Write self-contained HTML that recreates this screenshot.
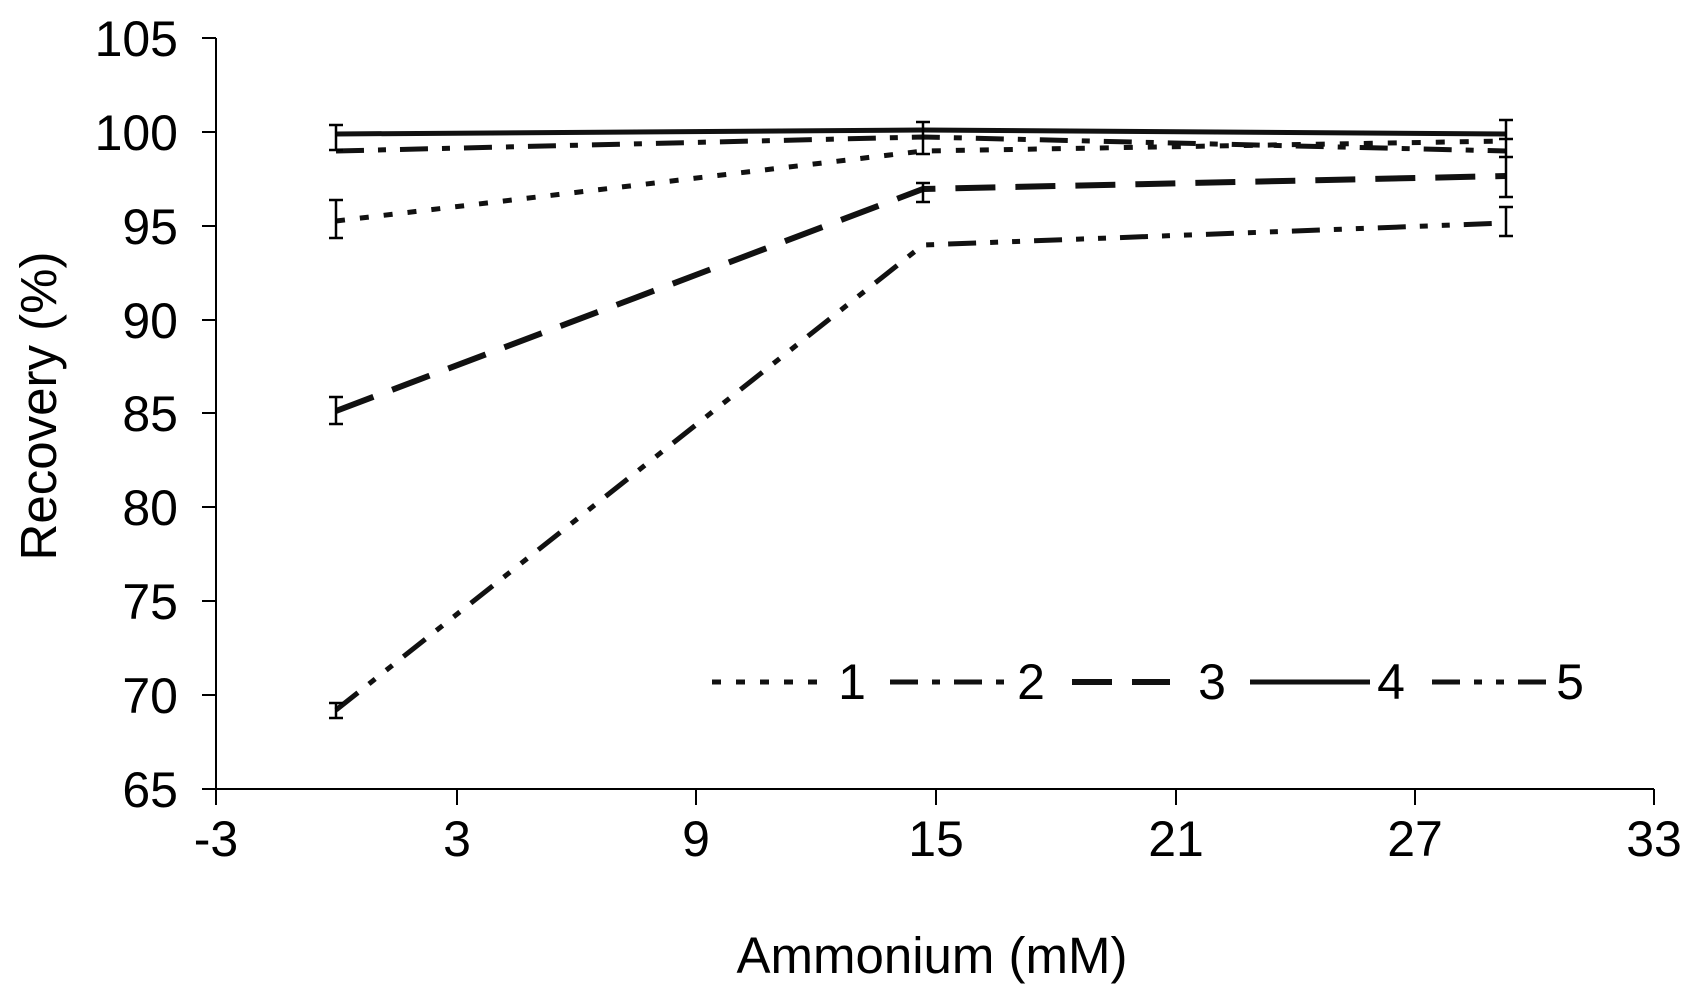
<!DOCTYPE html>
<html><head><meta charset="utf-8"><style>
html,body{margin:0;padding:0;background:#fff;}
svg{display:block;}
text{font-family:"Liberation Sans",Arial,sans-serif;fill:#000;}
</style></head><body>
<svg width="1688" height="994" viewBox="0 0 1688 994" xmlns="http://www.w3.org/2000/svg">
<g stroke="#000" stroke-width="2" fill="none">
<line x1="216" y1="38" x2="216" y2="789"/>
<line x1="216" y1="789" x2="1654" y2="789"/>
<line x1="202" y1="38" x2="216" y2="38"/>
<line x1="202" y1="132" x2="216" y2="132"/>
<line x1="202" y1="226" x2="216" y2="226"/>
<line x1="202" y1="320" x2="216" y2="320"/>
<line x1="202" y1="413" x2="216" y2="413"/>
<line x1="202" y1="507" x2="216" y2="507"/>
<line x1="202" y1="601" x2="216" y2="601"/>
<line x1="202" y1="695" x2="216" y2="695"/>
<line x1="202" y1="789" x2="216" y2="789"/>
<line x1="216" y1="789" x2="216" y2="805"/>
<line x1="457" y1="789" x2="457" y2="805"/>
<line x1="696" y1="789" x2="696" y2="805"/>
<line x1="936" y1="789" x2="936" y2="805"/>
<line x1="1176" y1="789" x2="1176" y2="805"/>
<line x1="1415" y1="789" x2="1415" y2="805"/>
<line x1="1654" y1="789" x2="1654" y2="805"/>
</g>
<g font-size="50" text-anchor="end">
<text x="178" y="56">105</text>
<text x="178" y="150">100</text>
<text x="178" y="244">95</text>
<text x="178" y="338">90</text>
<text x="178" y="431">85</text>
<text x="178" y="525">80</text>
<text x="178" y="619">75</text>
<text x="178" y="713">70</text>
<text x="178" y="807">65</text>
</g>
<g font-size="50" text-anchor="middle">
<text x="216" y="856">-3</text>
<text x="457" y="856">3</text>
<text x="696" y="856">9</text>
<text x="936" y="856">15</text>
<text x="1176" y="856">21</text>
<text x="1415" y="856">27</text>
<text x="1654" y="856">33</text>
<text x="932" y="973" font-size="51">Ammonium (mM)</text>
<text transform="translate(56,406) rotate(-90)" font-size="51">Recovery (%)</text>
</g>
<g fill="none" stroke="#111" stroke-width="5">
<polyline points="336,134 923,130 1506,134"/>
<polyline points="336,151 923,137 1506,151" stroke-dasharray="28,14,8,14"/>
<polyline points="336,221 923,151 1506,141" stroke-dasharray="9,15"/>
<polyline points="336,411 923,189 1506,176" stroke-width="6" stroke-dasharray="40,20"/>
<polyline points="336,710 923,245 1506,223" stroke-dasharray="28,14,8,14,8,14"/>
</g>
<g stroke="#000" stroke-width="2.5" fill="none">
<path d="M336,125V150M329,125h14M329,150h14"/>
<path d="M336,200V238M329,200h14M329,238h14"/>
<path d="M336,397V424M329,397h14M329,424h14"/>
<path d="M336,703V718M329,703h14M329,718h14"/>
<path d="M923,122V154M916,122h14M916,154h14"/>
<path d="M923,183V202M916,183h14M916,202h14"/>
<path d="M1506,120V197M1499,120h14M1499,139h14M1499,157h14M1499,197h14"/>
<path d="M1506,207V236M1499,207h14M1499,236h14"/>
</g>
<g fill="none" stroke="#111" stroke-width="5">
<line x1="712" y1="682" x2="832" y2="682" stroke-dasharray="9,15"/>
<line x1="890" y1="682" x2="1010" y2="682" stroke-dasharray="28,14,8,14"/>
<line x1="1072" y1="682" x2="1170" y2="682" stroke-width="6" stroke-dasharray="40,20"/>
<line x1="1250" y1="682" x2="1370" y2="682"/>
<line x1="1432" y1="682" x2="1552" y2="682" stroke-dasharray="28,14,8,14,8,14"/>
</g>
<g font-size="50" text-anchor="middle">
<text x="852" y="699">1</text>
<text x="1031" y="699">2</text>
<text x="1212" y="699">3</text>
<text x="1391" y="699">4</text>
<text x="1570" y="699">5</text>
</g>
</svg>
</body></html>
